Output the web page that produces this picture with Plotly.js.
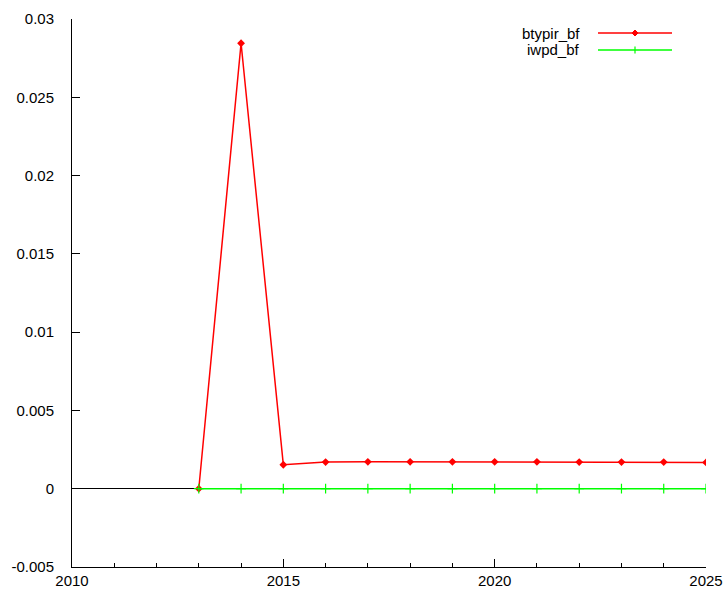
<!DOCTYPE html>
<html>
<head>
<meta charset="utf-8">
<script src="https://cdn.plot.ly/plotly-3.0.1.min.js"></script>
<style>html,body{margin:0;padding:0;background:#fff;}#chart{width:726px;height:591px;}</style>
</head>
<body>
<div id="chart"></div>
<script>
const years = [2013, 2014, 2015, 2016, 2017, 2018, 2019, 2020, 2021, 2022, 2023, 2024, 2025];
const btypir_bf = [0, 0.02845, 0.00153, 0.0017, 0.00172, 0.00172, 0.00172, 0.00172, 0.00172, 0.0017, 0.0017, 0.0017, 0.00168];
const iwpd_bf = [0, 0, 0, 0, 0, 0, 0, 0, 0, 0, 0, 0, 0];
const seriesNames = ['btypir_bf', 'iwpd_bf'];
const yTickVals = [-0.005, 0, 0.005, 0.01, 0.015, 0.02, 0.025, 0.03];
const yTickText = ['-0.005', '0', '0.005', '0.01', '0.015', '0.02', '0.025', '0.03'];
const xTickVals = [2010, 2015, 2020, 2025];
const xTickText = ['2010', '2015', '2020', '2025'];

const W = 726, H = 591, L = 72, R = 20, T = 19, B = 24;
const pw = W - L - R, ph = H - T - B;
function px(x) { return (x - L) / pw; }
function py(y) { return (H - B - y) / ph; }

const font = {family: 'Liberation Sans, Arial, Helvetica, sans-serif', size: 15, color: '#000'};

const traces = [
  {x: years, y: btypir_bf, name: seriesNames[0], mode: 'lines+markers',
   line: {color: '#ff0000', width: 1.5},
   marker: {symbol: 'diamond', size: 6, color: '#ff0000'}},
  {x: years, y: iwpd_bf, name: seriesNames[1], mode: 'lines+markers',
   line: {color: '#00ff00', width: 1.5},
   marker: {symbol: 'cross-thin', size: 7, line: {color: '#00ff00', width: 1.2}, color: '#00ff00'}}
];

// manual gnuplot-style legend (text then sample)
const legY = [33, 50];
const legColors = ['#ff0000', '#00ff00'];
const shapes = [];
const annotations = [];
for (let i = 0; i < 2; i++) {
  annotations.push({xref: 'paper', yref: 'paper', x: px(582), y: py(legY[i]), xanchor: 'right', yanchor: 'middle',
    text: seriesNames[i], showarrow: false, font: font});
  shapes.push({type: 'line', xref: 'paper', yref: 'paper', x0: px(598), x1: px(672), y0: py(legY[i]), y1: py(legY[i]),
    line: {color: legColors[i], width: 1.5}});
}
const mx = 635, d = 3;
shapes.push({type: 'path', xref: 'paper', yref: 'paper', fillcolor: '#ff0000', line: {color: '#ff0000', width: 1},
  path: `M ${px(mx - d)} ${py(legY[0])} L ${px(mx)} ${py(legY[0] - d)} L ${px(mx + d)} ${py(legY[0])} L ${px(mx)} ${py(legY[0] + d)} Z`});
shapes.push({type: 'line', xref: 'paper', yref: 'paper', x0: px(mx), x1: px(mx), y0: py(legY[1] - 3.5), y1: py(legY[1] + 3.5),
  line: {color: '#00ff00', width: 1.2}});

const layout = {
  width: W, height: H,
  margin: {l: L, r: R, t: T, b: B, pad: 0},
  paper_bgcolor: '#fff', plot_bgcolor: '#fff',
  font: font,
  showlegend: false,
  xaxis: {range: [2010, 2025], tickvals: xTickVals, ticktext: xTickText, ticks: 'inside', ticklen: 8, tickcolor: '#000', tickwidth: 1,
    showline: true, linecolor: '#000', linewidth: 1, showgrid: false, zeroline: false, mirror: false,
    minor: {dtick: 1, tick0: 2010, ticks: 'inside', ticklen: 4, tickcolor: '#000', tickwidth: 1, showgrid: false},
    ticklabelstandoff: 0, tickfont: font, automargin: false},
  yaxis: {range: [-0.005, 0.03], tickvals: yTickVals, ticktext: yTickText, ticks: 'inside', ticklen: 8, tickcolor: '#000', tickwidth: 1,
    showline: true, linecolor: '#000', linewidth: 1, showgrid: false, zeroline: true, zerolinecolor: '#000', zerolinewidth: 1,
    ticklabelstandoff: 14, tickfont: font, automargin: false},
  shapes: shapes,
  annotations: annotations
};

Plotly.newPlot('chart', traces, layout, {displayModeBar: false, staticPlot: true});
</script>
</body>
</html>
